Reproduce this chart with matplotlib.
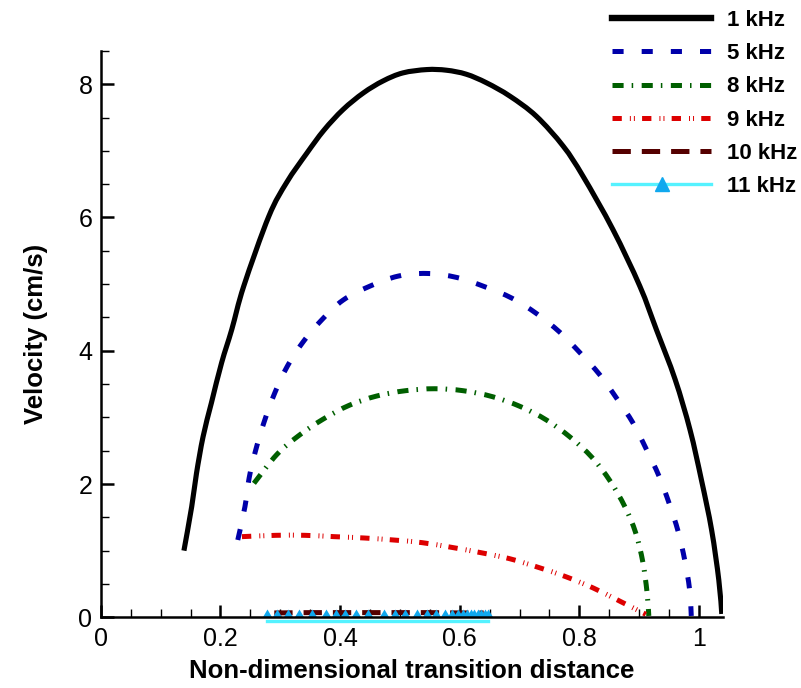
import matplotlib
matplotlib.use("Agg")
import numpy as np
import matplotlib.pyplot as plt
from matplotlib.lines import Line2D
from matplotlib.path import Path
from matplotlib.patches import PathPatch
from matplotlib.ticker import MultipleLocator

plt.rcParams['font.family'] = ['Liberation Sans', 'DejaVu Sans']
plt.rcParams['lines.scale_dashes'] = False

# ---------------- data ----------------
labels = ["1 kHz", "5 kHz", "8 kHz", "9 kHz", "10 kHz", "11 kHz"]

x_1k = [0.139, 0.152, 0.160, 0.171, 0.185, 0.202, 0.219, 0.239, 0.281, 0.311,
        0.344, 0.373, 0.405, 0.439, 0.472, 0.505, 0.545, 0.578, 0.611, 0.645,
        0.684, 0.728, 0.773, 0.806, 0.856, 0.901, 0.929, 0.960, 0.985, 1.004,
        1.021, 1.033, 1.038]
y_1k = [1.00, 1.66, 2.16, 2.71, 3.22, 3.82, 4.32, 4.97, 6.02, 6.53,
        6.96, 7.31, 7.62, 7.87, 8.05, 8.17, 8.22, 8.21, 8.15, 8.02,
        7.82, 7.52, 7.07, 6.62, 5.82, 4.97, 4.31, 3.57, 2.81, 2.06,
        1.31, 0.56, 0.05]

x_5k = [0.229, 0.241, 0.248, 0.259, 0.273, 0.291, 0.312, 0.338, 0.369, 0.405,
        0.450, 0.497, 0.545, 0.595, 0.642, 0.687, 0.728, 0.767, 0.801, 0.834,
        0.862, 0.890, 0.912, 0.933, 0.950, 0.965, 0.976, 0.984, 0.987]
y_5k = [1.16, 1.66, 2.09, 2.51, 2.93, 3.37, 3.77, 4.13, 4.46, 4.76,
        4.97, 5.12, 5.16, 5.10, 4.96, 4.79, 4.56, 4.28, 3.97, 3.64,
        3.29, 2.91, 2.52, 2.12, 1.71, 1.29, 0.86, 0.43, 0.02]

x_8k = [0.256, 0.294, 0.330, 0.371, 0.415, 0.461, 0.509, 0.558, 0.606, 0.655,
        0.702, 0.745, 0.785, 0.821, 0.851, 0.876, 0.894, 0.906, 0.913, 0.916]
y_8k = [2.01, 2.44, 2.72, 2.97, 3.18, 3.32, 3.40, 3.43, 3.40, 3.31,
        3.16, 2.96, 2.70, 2.40, 2.05, 1.66, 1.27, 0.83, 0.38, 0.02]

x_9k = [0.236, 0.293, 0.341, 0.390, 0.440, 0.489, 0.537, 0.586, 0.635, 0.683,
        0.731, 0.777, 0.823, 0.868, 0.911]
y_9k = [1.21, 1.23, 1.23, 1.21, 1.19, 1.16, 1.12, 1.05, 0.97, 0.88,
        0.75, 0.61, 0.44, 0.24, 0.045]

x_10k = [0.290, 0.350, 0.400, 0.450, 0.500, 0.550, 0.600, 0.640]
y_10k = [0.065, 0.07, 0.07, 0.07, 0.07, 0.07, 0.065, 0.065]

x_11k = [0.278, 0.295, 0.313, 0.332, 0.353, 0.377, 0.393, 0.409, 0.427, 0.446,
         0.474, 0.492, 0.508, 0.528, 0.545, 0.561, 0.575, 0.587, 0.597, 0.606,
         0.612, 0.618, 0.624, 0.630, 0.636, 0.642, 0.647]
y_11k = [-0.05] * len(x_11k)

x_ticks = [0, 0.2, 0.4, 0.6, 0.8, 1.0]
x_tick_labels = ["0", "0.2", "0.4", "0.6", "0.8", "1"]
y_ticks = [0, 2, 4, 6, 8]
y_tick_labels = ["0", "2", "4", "6", "8"]


def smooth_path(xs, ys):
    """Smooth (Catmull-Rom / Bezier) path passing through the read points."""
    pts = np.column_stack([xs, ys]).astype(float)
    n = len(pts)
    verts = [pts[0]]
    codes = [Path.MOVETO]
    for i in range(n - 1):
        p0 = pts[i - 1] if i > 0 else pts[i]
        p1 = pts[i]
        p2 = pts[i + 1]
        p3 = pts[i + 2] if i + 2 < n else pts[i + 1]
        c1 = p1 + (p2 - p0) / 6.0
        c2 = p2 - (p3 - p1) / 6.0
        verts += [c1, c2, p2]
        codes += [Path.CURVE4] * 3
    return Path(verts, codes)


# ---------------- figure ----------------
fig = plt.figure(figsize=(8.01, 6.88), dpi=100)
ax = fig.add_axes([0.1258, 0.1028, 0.9026 - 0.1258, 0.9260 - 0.1028])

c_blue = '#0000AA'
c_green = '#005F00'
c_red = '#DD0000'
c_brown = '#550000'
c_cyan = '#55F2FF'
c_tri = '#10A8EE'

ls_5k = (0, (8, 13))
ls_8k = (0, (8, 5.8, 1.1, 6.1))
ls_9k = (0, (6.7, 5.8, 0.7, 2.2, 0.7, 5.2))
ls_10k = (0, (13.2, 7.9))

for xs, ys, col, lw, ls in [
        (x_1k, y_1k, 'black', 3.7, '-'),
        (x_5k, y_5k, c_blue, 3.6, ls_5k),
        (x_8k, y_8k, c_green, 3.6, ls_8k),
        (x_9k, y_9k, c_red, 3.6, ls_9k)]:
    patch = PathPatch(smooth_path(xs, ys), facecolor='none', edgecolor=col,
                      linewidth=lw, linestyle=ls, capstyle='butt', zorder=2)
    ax.add_patch(patch)

ax.plot(x_10k, y_10k, color=c_brown, lw=3.6, linestyle=ls_10k, zorder=2)

tri = [(-5.0, 3.5), (5.0, 3.5), (0.0, 12.0), (-5.0, 3.5)]
ax.plot(x_11k, y_11k, color=c_cyan, lw=2.4, marker=tri, markersize=17.3,
        markerfacecolor=c_tri, markeredgecolor=c_tri, markeredgewidth=0,
        clip_on=False, zorder=2.2)

ax.set_xlim(0, 1.04)
ax.set_ylim(0, 8.5)
ax.spines['top'].set_visible(False)
ax.spines['right'].set_visible(False)
for s in ['left', 'bottom']:
    ax.spines[s].set_linewidth(1.8)
    ax.spines[s].set_zorder(3)

ax.set_xticks(x_ticks)
ax.set_xticklabels(x_tick_labels)
ax.set_yticks(y_ticks)
ax.set_yticklabels(y_tick_labels)
ax.xaxis.set_minor_locator(MultipleLocator(0.05))
ax.yaxis.set_minor_locator(MultipleLocator(0.5))
ax.tick_params(which='major', direction='in', length=9, width=1.8, labelsize=18)
ax.tick_params(which='minor', direction='in', length=5.5, width=1.0)
ax.tick_params(axis='x', which='major', pad=7)
ax.tick_params(axis='y', which='major', pad=6)

ax.set_xlabel("Non-dimensional transition distance", fontsize=18.5,
              fontweight='bold', labelpad=6)
ax.set_ylabel("Velocity (cm/s)", fontsize=18.5, fontweight='bold', labelpad=22)

handles = [
    Line2D([], [], color='black', lw=4.6),
    Line2D([], [], color=c_blue, lw=3.6, linestyle=ls_5k),
    Line2D([], [], color=c_green, lw=3.6, linestyle=ls_8k),
    Line2D([], [], color=c_red, lw=3.6, linestyle=ls_9k),
    Line2D([], [], color=c_brown, lw=3.6, linestyle=ls_10k),
    Line2D([], [], color=c_cyan, lw=2.4, marker='^', markersize=10,
           markerfacecolor=c_tri, markeredgecolor=c_tri),
]
leg = fig.legend(handles, labels, loc='upper left',
                 bbox_to_anchor=(612 / 801, 1 - 10 / 688),
                 frameon=False, borderpad=0, borderaxespad=0,
                 handlelength=4.46, handletextpad=0.72, labelspacing=0.55,
                 prop={'weight': 'bold', 'size': 16})

fig.savefig("out.png", dpi=100)
